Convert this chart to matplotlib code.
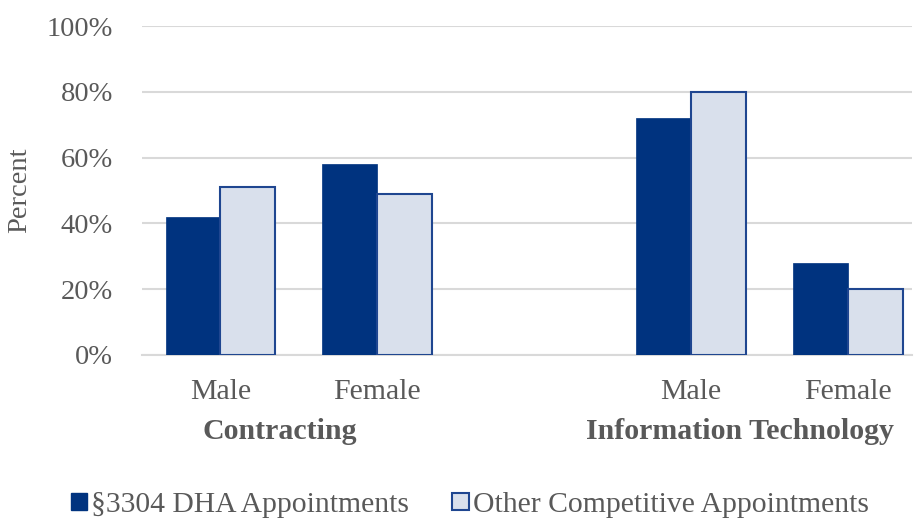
import matplotlib
matplotlib.use("Agg")
import matplotlib.pyplot as plt
from matplotlib.patches import Patch

categories = ["Male", "Female", "Male", "Female"]
groups = ["Contracting", "Information Technology"]
dha = [42, 58, 72, 28]
other = [51, 49, 80, 20]
series_names = ["§3304 DHA Appointments", "Other Competitive Appointments"]
yticks = [0, 20, 40, 60, 80, 100]

plt.rcParams['font.family'] = ['Liberation Serif', 'DejaVu Serif']
TXT = '#595959'
DARK = '#00337F'
LIGHT = '#D9E0EC'
EDGE = '#1F4690'

fig = plt.figure(figsize=(9.14, 5.18), dpi=100)
ax = fig.add_axes([142/914, 1-355/518, (912-142)/914, (355-26)/518])

pos = [0, 1, 3, 4]
w = 0.35
ax.bar([p - w/2 for p in pos], dha, width=w, color=DARK, edgecolor=DARK, linewidth=0.5, zorder=3)
ax.bar([p + w/2 for p in pos], other, width=w, color=LIGHT, edgecolor=EDGE, linewidth=1.5, zorder=3)

ax.set_xlim(-0.5, 4.41)
ax.set_ylim(0, 100)
ax.set_yticks(yticks)
ax.set_yticklabels([f"{v}%" for v in yticks], fontsize=20.5, color=TXT)
ax.yaxis.grid(True, color='#D9D9D9', linewidth=1.5, zorder=0)
ax.set_axisbelow(True)
for s in ['top', 'right', 'left']:
    ax.spines[s].set_visible(False)
ax.spines['bottom'].set_color('#D9D9D9')
ax.spines['bottom'].set_linewidth(1.5)
ax.tick_params(axis='y', length=0, pad=21)
ax.tick_params(axis='x', length=0, pad=17)
ax.set_xticks(pos)
ax.set_xticklabels(categories, fontsize=21.5, color=TXT)

ax.set_ylabel("Percent", fontsize=20.5, color=TXT, labelpad=10)

for gx, g in zip([0.38, 3.31], groups):
    ax.text(gx, -23.2, g, transform=ax.transData, ha='center', va='center',
            fontsize=21.5, fontweight='bold', color=TXT, clip_on=False)

handles = [Patch(facecolor=DARK, edgecolor=DARK), Patch(facecolor=LIGHT, edgecolor=EDGE, linewidth=1.5)]
fig.legend(handles, series_names, loc='center', bbox_to_anchor=(0.514, 1-505/518), ncol=2,
           frameon=False, fontsize=21.3, labelcolor=TXT, handlelength=0.55, handleheight=0.55,
           handletextpad=0.15, columnspacing=1.45)

fig.savefig("out.png", dpi=100)
